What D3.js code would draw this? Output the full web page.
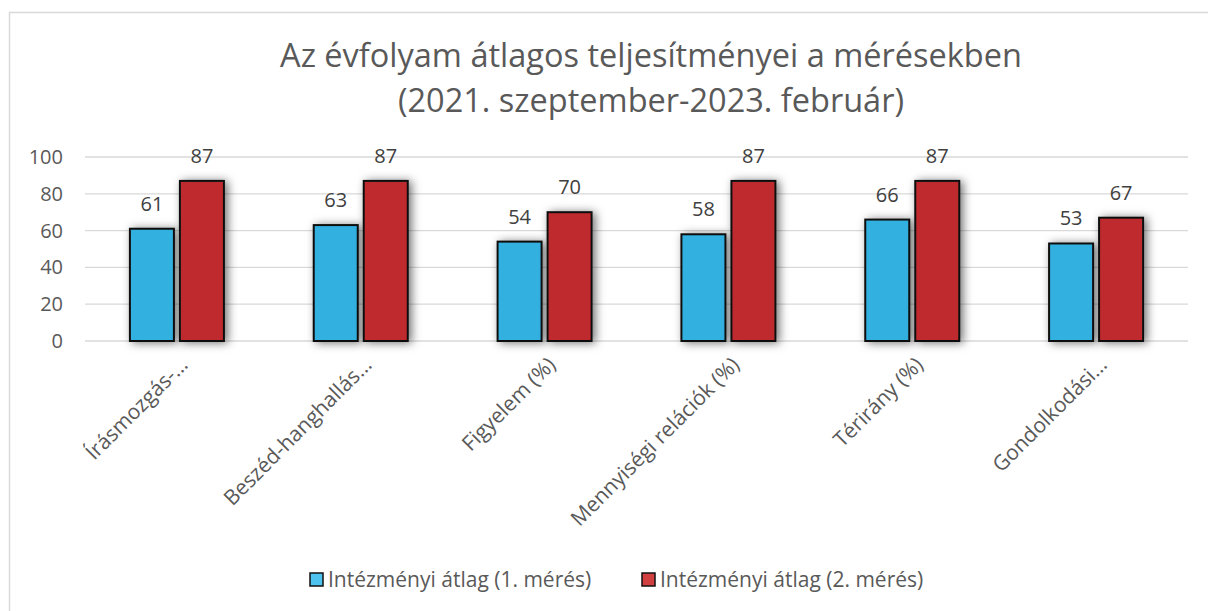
<!DOCTYPE html>
<html>
<head>
<meta charset="utf-8">
<script src="https://cdn.jsdelivr.net/npm/d3@7"></script>
<style>
  body { margin: 0; background: #fff; }
  svg { display: block; font-family: 'Open Sans', sans-serif; }
</style>
</head>
<body>
<div id="chart"></div>
<script>
const categories = ['Írásmozgás-…', 'Beszéd-hanghallás…', 'Figyelem (%)', 'Mennyiségi relációk (%)', 'Térirány (%)', 'Gondolkodási…'];
const series1 = [61, 63, 54, 58, 66, 53];
const series2 = [87, 87, 70, 87, 87, 67];
const seriesNames = ['Intézményi átlag (1. mérés)', 'Intézményi átlag (2. mérés)'];
const yTicks = [0, 20, 40, 60, 80, 100];
const titleLines = ['Az évfolyam átlagos teljesítményei a mérésekben', '(2021. szeptember-2023. február)'];

const W = 1208, H = 611;
const colors = ['#31b0e0', '#bf2a2e'];

const svg = d3.select('#chart').append('svg')
  .attr('width', W)
  .attr('height', H);

const defs = svg.append('defs');
const shadow = defs.append('filter').attr('id', 'shadow')
  .attr('x', '-60%').attr('y', '-30%').attr('width', '220%').attr('height', '160%');
shadow.append('feDropShadow')
  .attr('dx', 3).attr('dy', 1).attr('stdDeviation', 5)
  .attr('flood-color', '#000').attr('flood-opacity', 0.55);

// outer frame
svg.append('rect')
  .attr('x', 9.5).attr('y', 12.5)
  .attr('width', 1220).attr('height', 620)
  .attr('fill', '#fff')
  .attr('stroke', '#d9d9d9').attr('stroke-width', 1.5);

// title
svg.append('g').selectAll('text')
  .data(titleLines).enter().append('text')
    .attr('x', 651)
    .attr('y', (d, i) => 67 + i * 45)
    .attr('text-anchor', 'middle')
    .attr('fill', '#595959')
    .style('font-size', '32.5px')
    .text(d => d);

const x0 = d3.scaleBand().domain(categories).range([85, 1188]);
const x1 = d3.scaleBand().domain([0, 1]).range([x0.bandwidth() / 2 - 47, x0.bandwidth() / 2 + 47]).paddingInner(0.12);
const y = d3.scaleLinear().domain([0, 100]).range([341, 157]);

// gridlines
svg.append('g').selectAll('line')
  .data(yTicks).enter().append('line')
    .attr('x1', 85).attr('x2', 1188)
    .attr('y1', d => y(d)).attr('y2', d => y(d))
    .attr('stroke', '#d9d9d9').attr('stroke-width', 1.3);

// y axis labels
const yAxis = d3.axisLeft(y).tickValues(yTicks).tickSize(0).tickPadding(0);
svg.append('g')
  .attr('transform', 'translate(63,0)')
  .call(yAxis)
  .call(g => g.select('.domain').remove())
  .call(g => g.selectAll('text')
    .attr('fill', '#595959')
    .style('font-size', '20px')
    .style('font-family', "'Open Sans', sans-serif"));

// bars
const rows = categories.map((c, i) => ({cat: c, vals: [series1[i], series2[i]]}));
const groups = svg.append('g').selectAll('g')
  .data(rows).enter().append('g')
    .attr('transform', d => `translate(${x0(d.cat)},0)`);

groups.selectAll('rect')
  .data(d => d.vals.map((v, k) => ({v, k}))).enter().append('rect')
    .attr('x', d => x1(d.k))
    .attr('y', d => y(d.v))
    .attr('width', x1.bandwidth())
    .attr('height', d => y(0) - y(d.v))
    .attr('fill', d => colors[d.k])
    .attr('stroke', '#111')
    .attr('stroke-width', 2)
    .attr('filter', 'url(#shadow)');

groups.selectAll('text.val')
  .data(d => d.vals.map((v, k) => ({v, k}))).enter().append('text')
    .attr('class', 'val')
    .attr('x', d => x1(d.k) + x1.bandwidth() / 2)
    .attr('y', d => y(d.v) - 18)
    .attr('text-anchor', 'middle')
    .attr('fill', '#404040')
    .style('font-size', '20px')
    .text(d => d.v);

// x axis labels
const xAxis = d3.axisBottom(x0).tickSize(0).tickPadding(0);
svg.append('g')
  .attr('transform', `translate(0,${y(0)})`)
  .call(xAxis)
  .call(g => g.select('.domain').remove())
  .call(g => g.selectAll('text')
    .attr('fill', '#595959')
    .style('font-size', '21px')
    .style('font-family', "'Open Sans', sans-serif")
    .attr('text-anchor', 'end')
    .attr('dy', '0.35em')
    .attr('transform', 'translate(7,20) rotate(-45)'));

// legend
const legend = svg.append('g').selectAll('g')
  .data(seriesNames).enter().append('g')
    .attr('transform', (d, i) => `translate(${310 + i * 332},573)`);
legend.append('rect')
  .attr('width', 13).attr('height', 13)
  .attr('fill', (d, i) => i === 0 ? '#4fc3f0' : '#d04040')
  .attr('stroke', '#111').attr('stroke-width', 1.5);
legend.append('text')
  .attr('x', 18).attr('y', 14)
  .attr('fill', '#595959')
  .style('font-size', '21px')
  .text(d => d);
</script>
</body>
</html>
